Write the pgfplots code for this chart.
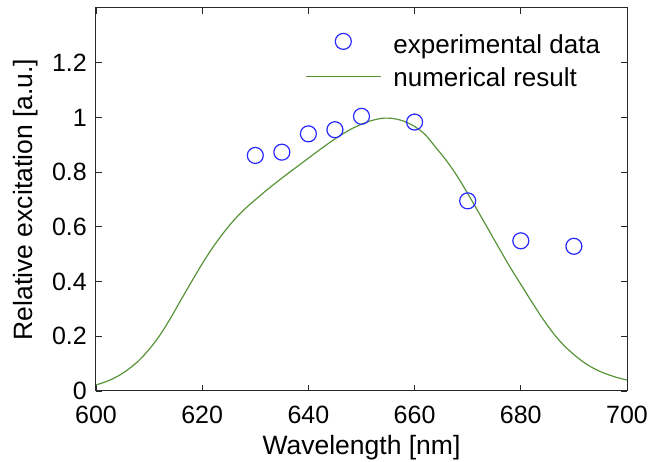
\documentclass[border=0pt]{standalone}
\usepackage{pgfplots}
\pgfplotsset{compat=1.18}
\usepackage{fontspec}
\setmainfont{Liberation Sans}
\definecolor{expblue}{RGB}{40,40,255}
\definecolor{numgreen}{RGB}{88,148,58}
\definecolor{frame}{RGB}{40,40,40}
\pgfplotsset{
  circleleg/.style={legend image code/.code={\path[draw=none,fill=none] (0pt,0pt) -- (75pt,0pt); \draw[##1] plot coordinates {(37.5pt,12pt)};}},
  lineleg/.style={legend image code/.code={\draw[##1] (0pt,10pt) -- (75pt,10pt);}},
}
\begin{document}
\begin{tikzpicture}
\path[use as bounding box] (-96pt,-71pt) rectangle (555pt,391pt);
\begin{axis}[
  scale only axis, width=531pt, height=383pt,
  xmin=600, xmax=700, ymin=0, ymax=1.4,
  xtick={600,620,640,660,680,700},
  xticklabels={600,620,640,660,680,700},
  ytick={0,0.2,0.4,0.6,0.8,1,1.2},
  yticklabels={0,0.2,0.4,0.6,0.8,1,1.2},
  tick align=inside, major tick length=6pt,
  axis line style={draw=frame, line width=1pt},
  tick style={draw=frame, line width=0.9pt},
  tick label style={font=\fontsize{25}{30}\selectfont},
  xticklabel style={anchor=base, inner sep=0pt, yshift=-33pt},
  yticklabel style={anchor=east, inner sep=0pt, xshift=-9pt},
  xlabel={Wavelength [nm]},
  xlabel style={at={(axis description cs:0.5,-0.1671)}, anchor=base, inner sep=0pt, font=\fontsize{26.5}{30}\selectfont},
  ylabel={Relative excitation [a.u.]},
  ylabel style={at={(axis description cs:-0.1205,0.5)}, anchor=base, inner sep=0pt, font=\fontsize{26.5}{30}\selectfont},
  legend style={at={(axis description cs:0.3936,0.9364)}, anchor=north west, draw=none, fill=none, inner sep=0pt,
    row sep=8.9pt, column sep=10pt, font=\fontsize{26}{30}\selectfont, cells={anchor=base west, inner sep=0pt}},
]
\addplot[only marks, mark=o, mark size=8pt, expblue, line width=1.2pt, circleleg]
  coordinates {
  (630,0.861) (635,0.873) (640,0.940) (645,0.955) (650,1.004)
  (660,0.983) (670,0.695) (680,0.549) (690,0.529)
  };
\addlegendentry{experimental data}
\addplot[numgreen, line width=1.2pt, smooth, mark=none, lineleg]
  coordinates {
  (600,0.022) (602,0.035) (604,0.053) (606,0.078) (608,0.110)
  (610,0.152) (612,0.203) (614,0.265) (616,0.333) (618,0.400)
  (620,0.465) (622,0.525) (624,0.578) (626,0.625) (628,0.665)
  (630,0.699) (632,0.732) (634,0.763) (636,0.793) (638,0.822)
  (640,0.851) (642,0.880) (644,0.908) (646,0.934) (648,0.957)
  (650,0.975) (652,0.989) (654,0.997) (656,0.996) (658,0.986)
  (660,0.967) (662,0.937) (664,0.890) (666,0.842) (668,0.786)
  (670,0.722) (672,0.655) (674,0.587) (676,0.519) (678,0.452)
  (680,0.390) (682,0.328) (684,0.268) (686,0.214) (688,0.169)
  (690,0.133) (692,0.103) (694,0.080) (696,0.063) (698,0.050)
  (700,0.040)
  };
\addlegendentry{numerical result}
\end{axis}
\end{tikzpicture}
\end{document}
